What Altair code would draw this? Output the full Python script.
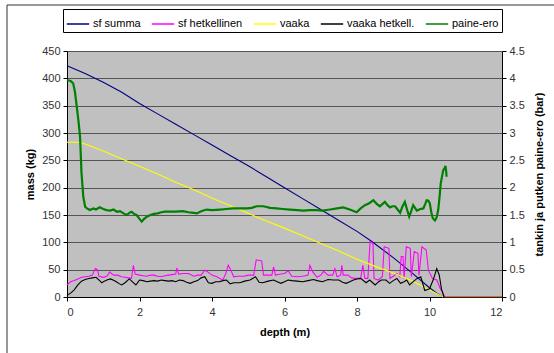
import altair as alt
import pandas as pd

# ---- data ----
series_names = ["sf summa", "sf hetkellinen", "vaaka", "vaaka hetkell.", "paine-ero"]
series_colors = ["#000080", "#ff00ff", "#ffff00", "#000000", "#008000"]

summa_depth = [0, 0.5, 1.0, 1.5, 2.0, 2.5, 3.0, 3.5, 4.0, 4.5, 5.0, 5.5, 6.0, 6.5, 7.0,
               7.5, 8.0, 8.4, 9.0, 9.5, 10.0, 10.2, 10.38]
summa_mass = [423, 409, 393, 375, 354, 335, 316, 297, 278, 259, 240, 220, 200, 180, 160,
              140, 120, 102, 72, 45, 17, 7, 0]

vaaka_depth = [0, 0.3, 0.5, 1.0, 1.5, 2.0, 2.5, 3.0, 3.5, 4.0, 4.5, 5.0, 5.5, 6.0, 6.5,
               7.0, 7.5, 8.0, 8.5, 9.0, 9.5, 10.0, 10.38]
vaaka_mass = [283, 283, 280, 267, 253, 239, 225, 210, 196, 181, 167, 153, 139, 126, 112,
              98, 84, 69, 56, 44, 30, 13, 0]

sfh_depth = [0.0, 0.1, 0.2, 0.3, 0.4, 0.5, 0.6, 0.7, 0.78, 0.84, 0.88, 1.0, 1.1, 1.18, 1.24,
             1.3, 1.4, 1.5, 1.6, 1.7, 1.78, 1.83, 1.88, 2.0, 2.1, 2.2, 2.3, 2.4, 2.5, 2.6,
             2.7, 2.8, 2.9, 3.0, 3.03, 3.08, 3.2, 3.35, 3.5, 3.6, 3.7, 3.8, 3.9, 4.0, 4.13,
             4.3, 4.38, 4.45, 4.52, 4.6, 4.7, 4.87, 5.0, 5.15, 5.22, 5.37, 5.42, 5.5, 5.65,
             5.7, 5.75, 5.9, 6.0, 6.1, 6.2, 6.35, 6.5, 6.65, 6.7, 6.78, 6.9, 7.0, 7.08, 7.2,
             7.33, 7.39, 7.45, 7.55, 7.58, 7.62, 7.75, 7.85, 7.95, 8.1, 8.16, 8.22, 8.3,
             8.36, 8.44, 8.47, 8.58, 8.7, 8.75, 8.88, 8.91, 9.0, 9.1, 9.18, 9.22, 9.27, 9.3,
             9.36, 9.47, 9.5, 9.58, 9.68, 9.71, 9.79, 9.91, 9.97, 10.08, 10.2, 10.3, 10.38,
             10.42]
sfh_mass = [22, 28, 30, 33, 36, 37, 38, 40, 52, 50, 38, 36, 38, 46, 42,
            40, 40, 37, 36, 35, 34, 58, 42, 40, 39, 38, 40, 40, 38, 37,
            39, 40, 41, 42, 53, 42, 43, 43, 38, 40, 40, 49, 45, 40, 37,
            31, 43, 58, 49, 37, 38, 38, 40, 40, 68, 66, 40, 40, 40,
            55, 40, 42, 43, 48, 38, 37, 38, 40, 58, 46, 36, 40, 47, 40,
            40, 52, 37, 40, 58, 40, 40, 35, 34, 34, 58, 34, 34,
            101, 98, 34, 31, 37, 92, 89, 34, 38, 43, 37, 74, 74, 34,
            92, 89, 37, 83, 80, 40, 92, 86, 49, 34, 31, 15, 6,
            0]

vh_depth = [0.0, 0.1, 0.2, 0.3, 0.4, 0.5, 0.6, 0.7, 0.8, 0.9, 0.96, 1.03, 1.1, 1.2, 1.3,
            1.36, 1.45, 1.51, 1.6, 1.72, 1.8, 1.9, 2.0, 2.1, 2.2, 2.3, 2.4, 2.5, 2.6, 2.7,
            2.8, 2.9, 3.0, 3.1, 3.2, 3.3, 3.4, 3.5, 3.6, 3.7, 3.8, 3.9, 4.0, 4.1, 4.2, 4.3,
            4.4, 4.5, 4.6, 4.77, 4.9, 5.05, 5.2, 5.3, 5.4, 5.55, 5.7, 5.8, 5.9, 6.0, 6.1,
            6.2, 6.35, 6.5, 6.65, 6.8, 6.9, 7.05, 7.2, 7.35, 7.5, 7.6, 7.7, 7.8, 7.9, 8.0,
            8.1, 8.25, 8.35, 8.5, 8.6, 8.67, 8.8, 8.9, 9.0, 9.1, 9.2, 9.3, 9.37, 9.45, 9.55,
            9.66, 9.76, 9.87, 10.0, 10.1, 10.2, 10.27, 10.33, 10.4]
vh_mass = [3, 7, 13, 22, 29, 32, 34, 35, 36, 30, 26, 29, 31, 33, 30,
           28, 24, 22, 26, 33, 28, 22, 31, 30, 28, 29, 30, 29, 31, 30,
           29, 30, 28, 31, 30, 27, 25, 28, 30, 35, 37, 26, 25, 28, 28, 30,
           31, 24, 26, 26, 29, 31, 37, 27, 26, 29, 31, 28, 25, 28, 31,
           30, 29, 28, 30, 32, 30, 28, 32, 31, 31, 27, 25, 28, 31, 33,
           34, 26, 31, 22, 28, 31, 31, 25, 30, 34, 25, 28, 31, 22, 28,
           34, 37, 12, 15, 31, 52, 40, 15, 0]

pe_depth = [0.0, 0.1, 0.17, 0.22, 0.27, 0.32, 0.36, 0.4, 0.45, 0.5, 0.55, 0.63, 0.73, 0.8,
            0.9, 1.0, 1.09, 1.2, 1.28, 1.38, 1.46, 1.56, 1.65, 1.72, 1.78, 1.85, 1.92, 2.0,
            2.06, 2.13, 2.2, 2.3, 2.4, 2.5, 2.6, 2.7, 2.84, 3.0, 3.2, 3.35, 3.5, 3.58, 3.7,
            3.85, 4.0, 4.22, 4.4, 4.58, 4.8, 4.96, 5.1, 5.23, 5.42, 5.6, 5.78, 5.95, 6.15,
            6.35, 6.52, 6.7, 6.89, 7.05, 7.26, 7.45, 7.62, 7.8, 7.99, 8.1, 8.22, 8.35, 8.45,
            8.55, 8.63, 8.7, 8.77, 8.84, 8.91, 8.98, 9.05, 9.12, 9.19, 9.25, 9.32, 9.38,
            9.44, 9.5, 9.55, 9.65, 9.75, 9.83, 9.88, 9.92, 9.97, 10.01, 10.05, 10.09, 10.15,
            10.2, 10.24, 10.28, 10.31, 10.35, 10.38, 10.42, 10.44, 10.46, 10.47]
pe_bar = [3.97, 3.95, 3.91, 3.75, 3.48, 3.2, 2.93, 2.27, 1.83, 1.65, 1.62, 1.59, 1.62, 1.60,
          1.64, 1.61, 1.59, 1.58, 1.60, 1.56, 1.57, 1.53, 1.50, 1.54, 1.56, 1.52, 1.50, 1.43,
          1.38, 1.43, 1.47, 1.50, 1.52, 1.53, 1.55, 1.56, 1.56, 1.56, 1.57, 1.55, 1.54, 1.53,
          1.57, 1.60, 1.59, 1.60, 1.61, 1.62, 1.62, 1.62, 1.63, 1.66, 1.66, 1.63, 1.62, 1.61,
          1.60, 1.59, 1.58, 1.59, 1.59, 1.58, 1.60, 1.62, 1.64, 1.60, 1.55, 1.62, 1.68, 1.72,
          1.77, 1.70, 1.66, 1.70, 1.74, 1.68, 1.64, 1.66, 1.66, 1.60, 1.54, 1.65, 1.74, 1.60,
          1.47, 1.58, 1.68, 1.58, 1.61, 1.62, 1.70, 1.77, 1.76, 1.71, 1.55, 1.44, 1.40,
          1.46, 1.59, 1.85, 2.08, 2.22, 2.32, 2.36, 2.40, 2.30, 2.20]

tail_depth = [10.42, 12.0]
tail_mass = [0, 0]

x_ticks = [0, 2, 4, 6, 8, 10, 12]
y_left_ticks = [0, 50, 100, 150, 200, 250, 300, 350, 400, 450]
y_right_ticks = [0, 0.5, 1, 1.5, 2, 2.5, 3, 3.5, 4, 4.5]

# ---- tables ----
frames = []
for name, dep, val, order in [
    ("sf summa", summa_depth, summa_mass, 0),
    ("sf hetkellinen", sfh_depth, sfh_mass, 1),
    ("vaaka", vaaka_depth, vaaka_mass, 2),
    ("vaaka hetkell.", vh_depth, vh_mass, 3),
]:
    frames.append(pd.DataFrame({"depth": dep, "value": val, "series": name, "ord": order}))
left_df = pd.concat(frames, ignore_index=True)
pe_df = pd.DataFrame({"depth": pe_depth, "value": pe_bar, "series": "paine-ero"})
tail_df = pd.DataFrame({"depth": tail_depth, "value": tail_mass})

FONT = "Liberation Sans"
W, H = 435, 246

xscale = alt.Scale(domain=[0, 12], nice=False, zero=False)
xaxis = alt.Axis(values=x_ticks, title="depth (m)", grid=False, tickSize=4,
                 labelPadding=5, titlePadding=9)
yscale_left = alt.Scale(domain=[0, 450], nice=False)
yaxis_left = alt.Axis(orient="left", values=y_left_ticks, title="mass (kg)",
                      grid=True, gridColor="#555555", tickSize=4,
                      labelPadding=3, titlePadding=6, labelOverlap=False)
color = alt.Color("series:N",
                  scale=alt.Scale(domain=series_names, range=series_colors),
                  sort=series_names,
                  legend=alt.Legend(orient="none", legendX=-4, legendY=-42,
                                    direction="horizontal", title=None,
                                    symbolType="stroke", symbolSize=500,
                                    symbolStrokeWidth=1.5, labelFontSize=11,
                                    labelFont=FONT, labelColor="#000",
                                    labelOffset=3, columnPadding=7,
                                    padding=3, strokeColor="#000",
                                    fillColor="#ffffff"))

main = alt.Chart(left_df).mark_line(strokeWidth=1.1).encode(
    x=alt.X("depth:Q", scale=xscale, axis=xaxis),
    y=alt.Y("value:Q", scale=yscale_left, axis=yaxis_left),
    color=color,
    detail="series:N",
    order=alt.Order("ord:Q"),
)

tail = alt.Chart(tail_df).mark_line(color="#993300", strokeWidth=1.2).encode(
    x=alt.X("depth:Q", scale=xscale, axis=xaxis),
    y=alt.Y("value:Q", scale=yscale_left, axis=yaxis_left),
)

one = pd.DataFrame({"a": [0]})
frame_top = alt.Chart(one).mark_rule(color="#333333", strokeWidth=1).encode(
    x=alt.value(-60), x2=alt.value(560), y=alt.value(-46))
frame_left = alt.Chart(one).mark_rule(color="#333333", strokeWidth=1).encode(
    x=alt.value(-60), y=alt.value(-46), y2=alt.value(320))

left_layer = alt.layer(frame_top, frame_left, main, tail)

green = alt.Chart(pe_df).mark_line(strokeWidth=2.2).encode(
    x=alt.X("depth:Q", scale=xscale, axis=xaxis),
    y=alt.Y("value:Q", scale=alt.Scale(domain=[0, 4.5], nice=False),
            axis=alt.Axis(orient="right", values=y_right_ticks, format="~g",
                          title="tankin ja putken paine-ero (bar)", titleAngle=270,
                          titleX=37, titleY=H / 2, titleAlign="center",
                          titleBaseline="middle", labelOverlap=False,
                          grid=False, tickSize=4, labelPadding=3)),
    color=alt.Color("series:N", scale=alt.Scale(domain=series_names, range=series_colors)),
)

chart = alt.layer(left_layer, green).resolve_scale(y="independent").properties(
    width=W, height=H,
    autosize=alt.AutoSizeParams(type="none"),
    padding={"left": 67, "top": 51, "right": 52, "bottom": 56},
    background="#ffffff",
).configure_view(
    fill="#c0c0c0", stroke=None,
).configure_axis(
    labelFont=FONT, titleFont=FONT, labelFontSize=11, titleFontSize=11,
    titleFontWeight="bold", titleColor="#000000", labelColor="#333333",
    domainColor="#000000", tickColor="#000000", domainWidth=1,
)

chart.save("out.html", embed_options={"renderer": "svg", "actions": False})
